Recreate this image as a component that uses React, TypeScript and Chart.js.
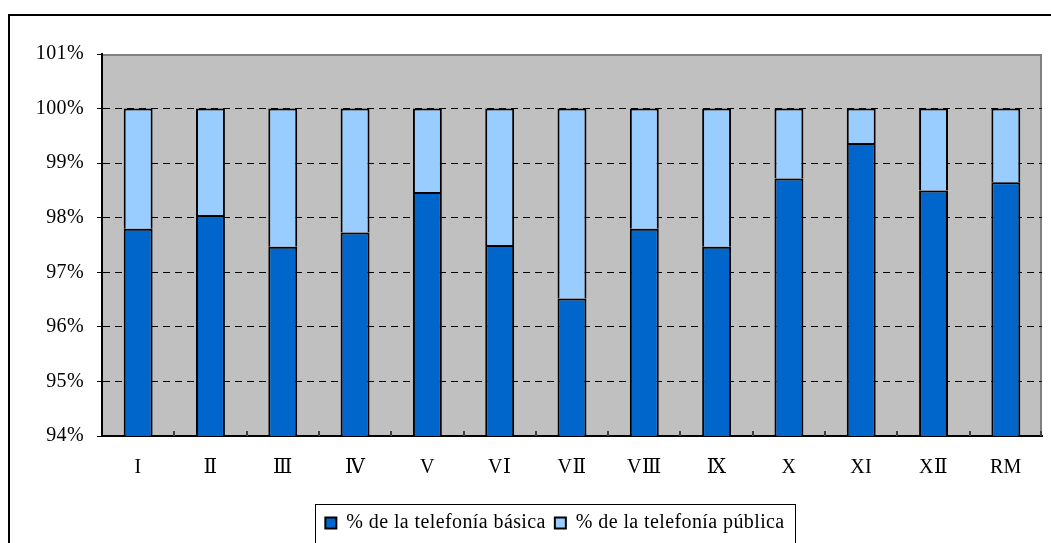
import React, { useEffect, useRef } from "react";
import { Chart, registerables } from "chart.js";

Chart.register(...registerables);

const categories = ["I", "Ⅱ", "Ⅲ", "Ⅳ", "V", "VⅠ", "VⅡ", "VⅢ", "Ⅸ", "X", "XI", "XⅡ", "RM"];
const basica = [97.8, 98.05, 97.47, 97.73, 98.47, 97.5, 96.52, 97.8, 97.47, 98.72, 99.37, 98.5, 98.65];
const publica = [2.2, 1.95, 2.53, 2.27, 1.53, 2.5, 3.48, 2.2, 2.53, 1.28, 0.63, 1.5, 1.35];
const seriesNames = ["% de la telefonía básica", "% de la telefonía pública"];
const yMin = 94;
const yMax = 101;
const yStep = 1;

const FONT = "'Liberation Serif', 'DejaVu Serif', serif";
const SPACING = "0.4px";

const decor = {
  id: "decor",
  beforeUpdate(chart: any) {
    try {
      chart.ctx.letterSpacing = SPACING;
    } catch (e) {}
  },
  afterLayout(chart: any) {
    const lg = chart.legend;
    if (lg) {
      lg.left += 30;
      lg.right += 30;
    }
  },
  beforeDraw(chart: any) {
    const { ctx, chartArea: a } = chart;
    try {
      ctx.letterSpacing = SPACING;
    } catch (e) {}
    ctx.save();
    ctx.fillStyle = "#C0C0C0";
    ctx.fillRect(a.left, a.top, a.right - a.left, a.bottom - a.top);
    ctx.strokeStyle = "#808080";
    ctx.lineWidth = 2;
    ctx.beginPath();
    ctx.moveTo(a.left, a.top + 1);
    ctx.lineTo(a.right - 1, a.top + 1);
    ctx.lineTo(a.right - 1, a.bottom);
    ctx.stroke();
    ctx.restore();
  },
  afterDatasetsDraw(chart: any) {
    const { ctx, chartArea: a } = chart;
    const xs = chart.scales.x;
    const n = categories.length;
    ctx.save();
    ctx.strokeStyle = "#404040";
    ctx.lineWidth = 2;
    for (let i = 1; i <= n; i++) {
      let px: number;
      if (i < n) px = (xs.getPixelForValue(i - 1) + xs.getPixelForValue(i)) / 2;
      else px = a.right - 1;
      ctx.beginPath();
      ctx.moveTo(Math.round(px), a.bottom);
      ctx.lineTo(Math.round(px), a.bottom - 5);
      ctx.stroke();
    }
    ctx.restore();
  },
  afterDraw(chart: any) {
    const lg = chart.legend;
    if (!lg || !lg.legendHitBoxes || !lg.legendHitBoxes.length) return;
    const hb = lg.legendHitBoxes;
    let l = Infinity, r = -Infinity, t = Infinity;
    hb.forEach((h: any) => {
      l = Math.min(l, h.left);
      r = Math.max(r, h.left + h.width);
      t = Math.min(t, h.top);
    });
    const { ctx } = chart;
    ctx.save();
    ctx.strokeStyle = "#000";
    ctx.lineWidth = 1;
    ctx.strokeRect(Math.round(l - 10) + 0.5, Math.round(t - 9) + 0.5, Math.round(r - l + 21), 200);
    ctx.restore();
  },
};

export default function App() {
  const ref = useRef<HTMLCanvasElement>(null);
  useEffect(() => {
    if (!ref.current) return;
    const chart = new Chart(ref.current, {
      type: "bar",
      data: {
        labels: categories,
        datasets: [
          {
            label: seriesNames[0],
            data: basica,
            backgroundColor: "#0066CC",
            borderColor: "#000000",
            borderWidth: 2,
            borderSkipped: false,
          },
          {
            label: seriesNames[1],
            data: publica,
            backgroundColor: "#99CCFF",
            borderColor: "#000000",
            borderWidth: 2,
            borderSkipped: "start",
          },
        ],
      },
      plugins: [decor],
      options: {
        responsive: false,
        animation: false,
        datasets: { bar: { categoryPercentage: 1, barPercentage: 0.4 } },
        layout: { padding: { top: 46, right: 9, left: 0, bottom: 0 } },
        plugins: {
          tooltip: { enabled: false },
          legend: {
            position: "bottom",
            labels: {
              boxWidth: 11,
              boxHeight: 11,
              padding: 9,
              color: "#000",
              font: { family: FONT, size: 20 },
            },
          },
        },
        scales: {
          x: {
            stacked: true,
            grid: { display: false, drawTicks: false },
            border: { display: true, color: "#000", width: 2 },
            ticks: { color: "#000", font: { family: FONT, size: 20 }, padding: 20, maxRotation: 0 },
            afterFit(s: any) {
              s.height = 68;
            },
          },
          y: {
            stacked: true,
            min: yMin,
            max: yMax,
            grid: {
              color: (c: any) => (c.tick && c.tick.value > yMin && c.tick.value < yMax ? "#000" : "rgba(0,0,0,0)"),
              tickColor: "#000",
              tickLength: 5,
              lineWidth: 1,
            },
            border: { display: true, color: "#000", width: 2, dash: [7, 5] },
            ticks: {
              stepSize: yStep,
              color: "#000",
              padding: 13,
              font: { family: FONT, size: 20 },
              callback: (v: any) => v + "%",
            },
            afterFit(s: any) {
              s.width = 94;
            },
          },
        },
      },
    });
    return () => chart.destroy();
  }, []);

  return (
    <div style={{ position: "fixed", left: 8, top: 8, width: 1043, height: 535, overflow: "hidden" }}>
      <div
        style={{
          position: "absolute",
          left: 0,
          top: 6,
          width: 2000,
          height: 2000,
          borderLeft: "2px solid #000",
          borderTop: "2px solid #000",
        }}
      />
      <canvas ref={ref} width={1043} height={535} style={{ position: "absolute", left: 0, top: 0 }} />
    </div>
  );
}
